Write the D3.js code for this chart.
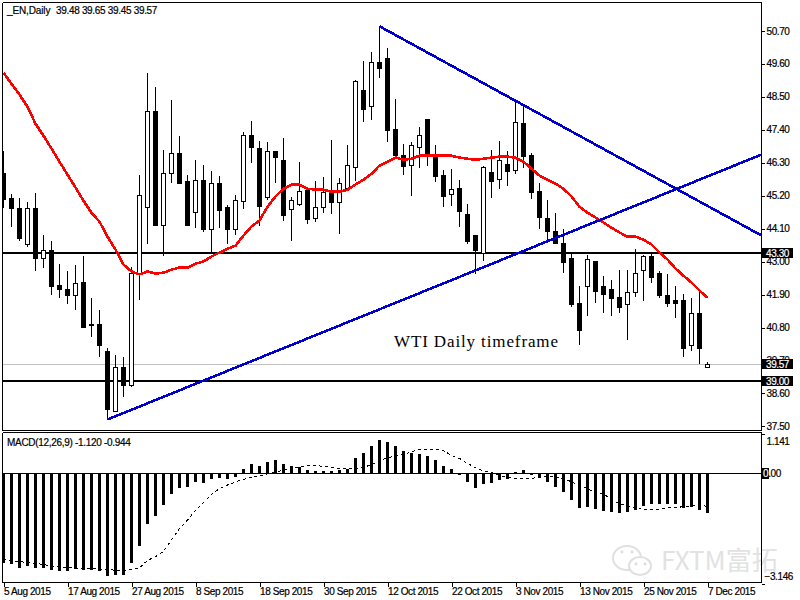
<!DOCTYPE html>
<html>
<head>
<meta charset="utf-8">
<script src="https://cdnjs.cloudflare.com/ajax/libs/d3/7.8.5/d3.min.js"></script>
<style>
html,body{margin:0;padding:0;background:#fff;}
svg{display:block;}
text{font-family:"Liberation Sans",sans-serif;font-size:10px;letter-spacing:-0.4px;fill:#000;stroke:#000;stroke-width:.2px;}
</style>
</head>
<body>
<svg id="chart" width="800" height="600"></svg>
<script>
const opens = [45.97,45.13,44.80,43.60,44.80,43.13,43.37,42.23,42.07,41.87,42.33,40.93,40.93,40.03,38.03,39.47,38.87,42.63,44.83,48.03,44.23,45.97,46.63,45.70,44.67,45.73,44.10,45.63,44.83,44.10,45.03,47.23,46.80,45.17,46.70,46.40,44.77,44.93,45.40,44.47,44.83,45.30,45.00,45.47,46.17,48.73,48.20,49.67,49.80,47.43,46.57,46.23,46.83,47.77,46.57,45.90,45.27,45.47,44.60,43.87,43.30,46.00,45.77,46.27,46.07,47.63,46.57,45.37,44.47,44.03,43.63,43.13,41.63,42.17,43.03,42.20,42.07,41.83,41.60,42.00,42.73,43.20,42.63,41.87,41.73,41.73,40.23,41.30,39.48];
const highs = [46.70,45.27,45.13,45.00,45.30,43.87,43.70,42.93,42.67,42.87,43.17,41.80,41.37,40.13,39.87,39.83,42.83,45.90,49.30,48.83,46.73,48.40,47.20,45.90,46.40,46.23,46.03,45.87,44.90,45.23,47.33,47.70,47.03,47.00,46.70,47.13,45.17,46.33,45.47,45.70,45.83,47.07,45.80,46.90,49.07,49.70,50.00,50.87,50.13,48.43,46.93,47.00,47.50,47.77,46.90,46.07,46.10,45.73,44.93,43.90,46.20,46.73,47.03,46.70,48.37,48.23,46.63,45.63,45.07,44.63,44.10,43.30,42.20,43.23,43.03,42.53,42.37,42.73,42.73,43.43,43.23,43.30,42.70,42.60,42.20,41.93,41.77,42.00,39.65];
const lows = [44.80,44.17,43.67,43.50,42.67,42.77,41.87,41.80,41.60,41.40,40.77,40.47,39.80,37.73,38.00,38.47,38.80,41.73,43.57,44.20,43.17,45.63,45.63,44.20,44.13,44.00,43.30,44.13,43.57,43.87,44.77,46.30,44.20,45.07,45.63,44.37,43.67,44.87,44.27,44.33,44.63,44.60,43.93,45.43,45.70,47.67,47.73,49.13,47.00,46.43,45.90,45.20,46.13,46.20,45.67,44.83,44.87,44.17,43.60,42.60,43.03,45.13,45.43,45.53,45.93,46.13,45.10,44.10,43.63,43.63,42.63,41.50,40.20,41.20,41.63,41.30,41.20,41.30,40.37,41.83,41.67,42.30,41.80,41.47,41.13,39.80,40.03,39.57,39.45];
const closes = [45.10,44.80,43.80,44.80,43.13,43.40,42.20,42.10,41.87,42.30,40.83,40.87,40.20,38.07,39.47,38.87,42.63,45.23,48.03,44.23,45.97,46.63,45.63,44.23,45.73,44.07,45.63,44.73,44.10,45.07,47.23,46.83,44.87,46.70,46.50,44.57,45.07,45.37,44.43,44.83,45.33,45.00,45.63,46.23,49.03,48.10,49.67,49.47,47.40,46.57,46.20,46.90,47.23,46.53,45.87,45.20,45.43,44.70,43.70,43.37,46.17,45.70,46.40,46.03,47.67,46.53,45.33,44.50,44.03,43.63,42.97,41.57,40.70,43.10,42.03,41.93,41.80,41.47,42.00,42.63,43.20,42.50,41.90,41.63,41.63,40.10,41.27,40.10,39.57];
const maValues = [49.30,48.93,48.57,48.17,47.60,47.20,46.77,46.33,45.90,45.47,45.03,44.63,44.33,43.83,43.40,42.90,42.67,42.57,42.67,42.60,42.63,42.73,42.80,42.80,42.93,43.00,43.17,43.30,43.43,43.53,43.87,44.17,44.37,44.83,45.17,45.43,45.57,45.57,45.43,45.40,45.40,45.33,45.33,45.40,45.57,45.73,45.93,46.20,46.33,46.47,46.40,46.43,46.53,46.53,46.53,46.53,46.53,46.47,46.43,46.40,46.43,46.47,46.50,46.50,46.47,46.33,46.10,45.87,45.73,45.60,45.43,45.17,44.83,44.63,44.47,44.30,44.13,43.97,43.83,43.83,43.73,43.57,43.30,43.07,42.77,42.53,42.30,42.03,41.80];
const macdBars = [-2.57,-2.60,-2.70,-2.64,-2.70,-2.70,-2.75,-2.78,-2.78,-2.72,-2.75,-2.75,-2.78,-2.92,-2.90,-2.90,-2.55,-2.07,-1.44,-1.21,-0.90,-0.59,-0.41,-0.38,-0.25,-0.27,-0.16,-0.12,-0.16,-0.10,0.12,0.26,0.21,0.32,0.38,0.27,0.21,0.18,0.10,0.07,0.07,0.07,0.10,0.14,0.44,0.58,0.78,0.95,0.90,0.78,0.64,0.58,0.55,0.50,0.38,0.21,0.12,-0.03,-0.25,-0.42,-0.30,-0.28,-0.19,-0.16,0.03,0.10,-0.03,-0.14,-0.25,-0.39,-0.53,-0.76,-0.99,-0.96,-1.02,-1.08,-1.10,-1.13,-1.10,-1.05,-0.93,-0.88,-0.88,-0.88,-0.88,-0.99,-0.95,-1.05,-1.12];
const macdSignal = [-2.46,-2.50,-2.52,-2.54,-2.57,-2.60,-2.65,-2.67,-2.70,-2.70,-2.71,-2.71,-2.73,-2.75,-2.76,-2.77,-2.75,-2.70,-2.48,-2.38,-2.22,-1.90,-1.57,-1.33,-1.05,-0.83,-0.60,-0.43,-0.33,-0.24,-0.17,-0.11,-0.07,-0.01,0.05,0.09,0.14,0.19,0.22,0.22,0.21,0.18,0.14,0.13,0.14,0.17,0.26,0.36,0.45,0.50,0.54,0.62,0.69,0.69,0.69,0.65,0.52,0.43,0.29,0.16,0.07,0.03,-0.05,-0.12,-0.14,-0.14,-0.14,-0.10,-0.07,-0.10,-0.14,-0.24,-0.33,-0.43,-0.55,-0.57,-0.76,-0.86,-0.93,-0.98,-1.03,-1.03,-1.02,-0.98,-0.97,-0.95,-0.93,-0.89,-0.944];
const priceTicks = [50.70,49.60,48.50,47.40,46.30,45.20,44.10,43.00,41.90,40.80,39.70,38.60,37.50];
const macdTicks = [1.141,-3.146];
const dateTickIndex = [0,8,16,24,32,40,48,56,64,72,80,88];
const dateTickLabels = ["5 Aug 2015","17 Aug 2015","27 Aug 2015","8 Sep 2015","18 Sep 2015","30 Sep 2015","12 Oct 2015","22 Oct 2015","3 Nov 2015","13 Nov 2015","25 Nov 2015","7 Dec 2015"];
const levelLines = [43.30,39.00];
const lastPrice = 39.57;
const trendLow = [[13,37.73],[94.75,46.57]];
const trendHigh = [[47,50.85],[94.75,43.87]];

const svg = d3.select("#chart");
const L = 2, R = 761, T1 = 2, B1 = 430, T2 = 432, B2 = 582;
const x = d3.scaleLinear().domain([0,94.75]).range([3.5,761.5]);
const y = d3.scaleLinear().domain([50.70,37.50]).range([30.8,426.4]);
const m = d3.scaleLinear().domain([0,-3.146]).range([473.5,583.6]);

const defs = svg.append("defs");
defs.append("clipPath").attr("id","cp1").append("rect").attr("x",L+1).attr("y",T1).attr("width",R-L-1).attr("height",B1-T1);
defs.append("clipPath").attr("id","cp2").append("rect").attr("x",L+1).attr("y",T2).attr("width",R-L-1).attr("height",B2-T2);

const main = svg.append("g").attr("clip-path","url(#cp1)");
const sub = svg.append("g").attr("clip-path","url(#cp2)");

// price reference lines
main.append("line").attr("x1",L).attr("x2",R).attr("y1",y(lastPrice)).attr("y2",y(lastPrice))
  .attr("stroke","#c0c0c0").attr("stroke-width",1).attr("shape-rendering","crispEdges");
main.selectAll(".lvl").data(levelLines).join("line").attr("class","lvl")
  .attr("x1",L).attr("x2",R).attr("y1",d=>y(d)).attr("y2",d=>y(d))
  .attr("stroke","#000").attr("stroke-width",2).attr("shape-rendering","crispEdges");

// candles
const idx = d3.range(opens.length);
const cg = main.append("g").attr("shape-rendering","crispEdges");
cg.selectAll(".wick").data(idx).join("line").attr("class","wick")
  .attr("x1",i=>x(i)).attr("x2",i=>x(i)).attr("y1",i=>y(highs[i])).attr("y2",i=>y(lows[i]))
  .attr("stroke","#000").attr("stroke-width",1);
cg.selectAll(".body").data(idx).join("rect").attr("class","body")
  .attr("x",i=>x(i)-2)
  .attr("width",4)
  .attr("y",i=>Math.round(y(Math.max(opens[i],closes[i])))+0.5)
  .attr("height",i=>Math.max(1,Math.round(y(Math.min(opens[i],closes[i])))-Math.round(y(Math.max(opens[i],closes[i])))))
  .attr("fill",i=>closes[i]>opens[i]?"#fff":"#000")
  .attr("stroke","#000").attr("stroke-width",1);

// moving average
const maLine = d3.line().x((d,i)=>x(i)).y(d=>y(d));
main.append("path").attr("d",maLine(maValues)).attr("fill","none").attr("stroke","#f00").attr("stroke-width",2.6).attr("shape-rendering","crispEdges");

// trend lines
const tl = d3.line().x(d=>x(d[0])).y(d=>y(d[1]));
[trendLow,trendHigh].forEach(t=>{
  main.append("path").attr("d",tl(t)).attr("fill","none").attr("stroke","#0000cd").attr("stroke-width",2.6).attr("shape-rendering","crispEdges");
});

// annotation
svg.append("text").attr("x",394).attr("y",347).attr("textLength",164).attr("lengthAdjust","spacing")
  .style("font-family","'Liberation Serif',serif").style("font-size","17px").style("letter-spacing","0").style("stroke","none")
  .text("WTI Daily timeframe");

// header
svg.append("text").attr("x",7).attr("y",14).attr("textLength",43).text("_EN,Daily");
svg.append("text").attr("x",56).attr("y",14).attr("textLength",101)
  .text([opens[88],highs[88],lows[88],closes[88]].map(d=>d.toFixed(2)).join(" "));

// MACD
sub.append("g").attr("shape-rendering","crispEdges").selectAll("rect").data(macdBars).join("rect")
  .attr("x",(d,i)=>x(i)-1.5).attr("width",3)
  .attr("y",d=>d>=0?m(d):m(0)).attr("height",d=>Math.abs(m(d)-m(0)))
  .attr("fill","#000");
sub.append("line").attr("x1",L).attr("x2",R).attr("y1",m(0)).attr("y2",m(0))
  .attr("stroke","#000").attr("stroke-width",1).attr("shape-rendering","crispEdges");
sub.append("path").attr("d",d3.line().x((d,i)=>x(i)).y(d=>m(d))(macdSignal))
  .attr("fill","none").attr("stroke","#000").attr("stroke-width",1).attr("stroke-dasharray","3,3").attr("shape-rendering","crispEdges");
svg.append("text").attr("x",7).attr("y",446).style("letter-spacing","-0.3px")
  .text("MACD(12,26,9) "+macdBars[88].toFixed(3)+" "+macdSignal[88].toFixed(3));

// watermark
const wm = svg.append("g");
wm.append("ellipse").attr("cx",627).attr("cy",558).attr("rx",14).attr("ry",12).attr("fill","#fff").attr("stroke","#e0e0e0").attr("stroke-width",2);
wm.append("ellipse").attr("cx",640).attr("cy",566).attr("rx",11).attr("ry",9).attr("fill","#fff").attr("stroke","#e0e0e0").attr("stroke-width",2);
[[622,552],[632,552],[636,564],[645,564]].forEach(p=>wm.append("circle").attr("cx",p[0]).attr("cy",p[1]).attr("r",1.4).attr("fill","#dcdcdc"));
wm.append("text").attr("x",661).attr("y",570).style("font-family","'Noto Sans CJK SC','Noto Sans',sans-serif").style("font-size","26px").style("letter-spacing","0")
  .style("fill","#e2e2e2").style("stroke","none").text("FXTM富拓");

// frame
const frame = svg.append("g").attr("stroke","#000").attr("stroke-width",1).attr("shape-rendering","crispEdges");
[[L,T1,R,T1],[L,T1,L,B1],[R,T1,R,B1],[L,B1,R,B1],[L,T2,R,T2],[L,T2,L,B2],[R,T2,R,B2],[L,B2,R,B2]].forEach(s=>{
  frame.append("line").attr("x1",s[0]+0.5).attr("y1",s[1]+0.5).attr("x2",s[2]+0.5).attr("y2",s[3]+0.5);
});

// right axis (price)
const ya = svg.append("g").attr("transform",`translate(${R+0.5},0)`)
  .call(d3.axisRight(y).tickValues(priceTicks).tickSize(3).tickFormat(d3.format(".2f")));
ya.select(".domain").remove();
ya.selectAll("line").attr("stroke","#000").attr("shape-rendering","crispEdges");
ya.selectAll("text").attr("x",5);

// highlighted price labels
function box(v){
  const g = svg.append("g");
  const c = Math.round(y(v));
  g.append("rect").attr("x",762).attr("y",c-5).attr("width",31).attr("height",10).attr("fill","#000").attr("shape-rendering","crispEdges");
  g.append("text").attr("x",766).attr("y",c+4).style("fill","#fff").style("stroke","#fff").text(v.toFixed(2));
}
levelLines.concat([lastPrice]).forEach(box);

// MACD axis
const ma = svg.append("g").attr("transform",`translate(${R+0.5},0)`)
  .call(d3.axisRight(m).tickValues(macdTicks).tickSize(3).tickFormat(d3.format(".3f")));
ma.select(".domain").remove();
ma.selectAll("line").attr("stroke","#000").attr("shape-rendering","crispEdges");
ma.selectAll("text").attr("x",d=>d<0?3:5).attr("dy",d=>d>0?"1.05em":"-0.45em");

// zero label
svg.append("rect").attr("x",762).attr("y",468).attr("width",7).attr("height",11).attr("fill","#000").attr("shape-rendering","crispEdges");
const zt = svg.append("text").attr("x",763).attr("y",477);
zt.append("tspan").style("fill","#fff").style("stroke","#fff").text("0");
zt.append("tspan").text(".00");

// bottom axis (dates)
const xa = svg.append("g").attr("transform",`translate(0,${B2+0.5})`)
  .call(d3.axisBottom(x).tickValues(dateTickIndex).tickSize(4).tickFormat((d,i)=>dateTickLabels[i]));
xa.select(".domain").remove();
xa.selectAll("line").attr("stroke","#000").attr("shape-rendering","crispEdges");
xa.selectAll("text").attr("text-anchor","start").attr("x",0).attr("y",5).attr("dy","0.71em");
</script>
</body>
</html>
